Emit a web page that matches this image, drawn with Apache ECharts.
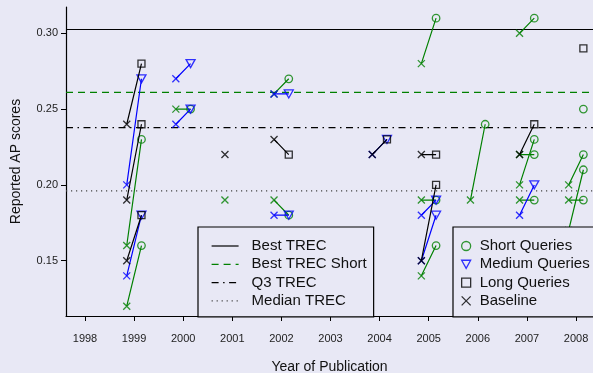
<!DOCTYPE html>
<html><head><meta charset="utf-8">
<script src="https://cdn.jsdelivr.net/npm/echarts@6/dist/echarts.min.js"></script>
<style>html,body{margin:0;padding:0;background:#e8e8f5;}#c{width:593px;height:373px;}</style>
</head><body><div id="c"></div>
<script>
// ---- data ----
const xTickYears = [1998,1999,2000,2001,2002,2003,2004,2005,2006,2007,2008];
const yTickValues = [0.15,0.20,0.25,0.30];

const refNames  = ['Best TREC','Best TREC Short','Q3 TREC','Median TREC'];
const refValues = [0.3025, 0.261, 0.2378, 0.196];

// Short queries: baseline -> improved
const shortYear = [1999,1999,2000,2002,2002,2005,2005,2005,2006,2007,2007,2007,2007,2008,2008,2008];
const shortBase = [0.16,0.12,0.25,0.26,0.19,0.28,0.19,0.14,0.19,0.30,0.22,0.20,0.19,0.20,0.19,0.17];
const shortImp  = [0.23,0.16,0.25,0.27,0.18,0.31,0.19,0.16,0.24,0.31,0.22,0.23,0.19,0.22,0.19,0.21];
// Medium queries
const mediumYear = [1999,1999,2000,2000,2002,2002,2004,2005,2005,2007];
const mediumBase = [0.20,0.14,0.27,0.24,0.26,0.18,0.22,0.18,0.15,0.18];
const mediumImp  = [0.27,0.18,0.28,0.25,0.26,0.18,0.23,0.19,0.18,0.20];
// Long queries
const longYear = [1999,1999,1999,2002,2004,2005,2005,2007];
const longBase = [0.24,0.19,0.15,0.23,0.22,0.22,0.15,0.22];
const longImp  = [0.28,0.24,0.18,0.22,0.23,0.22,0.20,0.24];
// unpaired points
const soloShortBaseYear = [2001]; const soloShortBase = [0.19];
const soloLongBaseYear  = [2001]; const soloLongBase  = [0.22];
const soloShortImpYear  = [2008]; const soloShortImp  = [0.25];
const soloLongImpYear   = [2008]; const soloLongImp   = [0.29];

// ---- layout / style ----
const OFF = 0.15;
const XMIN = 1997.613, XMAX = 2008.346;
const YMIN = 0.11352, YMAX = 0.31735;
const BG = '#e8e8f5';
const G = '#008000', B = '#0000ff', K = '#000000';
const FONT = '"Liberation Sans", Arial, Helvetica, sans-serif';
const XSYM = 'path://M0,0L10,10M0,10L10,0';
const TRI = 'path://M0,0L10,0L5,9Z';

function pairLine(years, base, imp){
  const d = [];
  years.forEach((y,i)=>{ d.push([y-OFF, base[i]]); d.push([y+OFF, imp[i]]); d.push([y+OFF, '-']); });
  return d;
}
function pts(years, vals, off){ return years.map((y,i)=>[y+off, vals[i]]); }

const hollow = c => ({color:'transparent', borderColor:c, borderWidth:1.3});

const refStyles = [
  {color:K, width:1.2, type:'solid'},
  {color:G, width:1.2, type:[7,5]},
  {color:K, width:1.2, type:[7,4.5,1.5,4.5]},
  {color:'#444', width:1.2, type:[1.2,3.8]}
];

const series = [];
refNames.forEach((n,i)=>{
  series.push({type:'line', name:n, data:[[XMIN, refValues[i]],[XMAX, refValues[i]]], symbol:'none',
    lineStyle:refStyles[i], silent:true, z:1});
});
const groups = [
  {key:'short', c:G, years:shortYear, base:shortBase, imp:shortImp, name:'Short Queries', sym:'circle', size:7.5},
  {key:'medium', c:B, years:mediumYear, base:mediumBase, imp:mediumImp, name:'Medium Queries', sym:TRI, size:[9,8]},
  {key:'long', c:K, years:longYear, base:longBase, imp:longImp, name:'Long Queries', sym:'rect', size:7}
];
groups.forEach((g,gi)=>{
  series.push({type:'line', name:g.key+'-link', data:pairLine(g.years,g.base,g.imp), symbol:'none',
    connectNulls:false, lineStyle:{color:g.c, width:1.2}, silent:true, z:2+gi*3});
  let bd = pts(g.years, g.base, -OFF);
  let idt = pts(g.years, g.imp, OFF);
  if (g.key==='short'){ bd = bd.concat(pts(soloShortBaseYear, soloShortBase, -OFF)); idt = idt.concat(pts(soloShortImpYear, soloShortImp, OFF)); }
  if (g.key==='long'){ bd = bd.concat(pts(soloLongBaseYear, soloLongBase, -OFF)); idt = idt.concat(pts(soloLongImpYear, soloLongImp, OFF)); }
  series.push({type:'scatter', name: g.key==='long' ? 'Baseline' : g.key+'-base', data:bd, symbol:XSYM, symbolSize:7,
    itemStyle:hollow(g.c), silent:true, z:3+gi*3});
  series.push({type:'scatter', name:g.name, data:idt, symbol:g.sym, symbolSize:g.size,
    itemStyle:hollow(g.c), silent:true, z:4+gi*3});
});

const chart = echarts.init(document.getElementById('c'), null, {renderer:'canvas'});
chart.setOption({
  backgroundColor: BG,
  animation:false,
  textStyle:{fontFamily:FONT},
  grid:{left:66, top:7, right:0, bottom:57, containLabel:false, outerBoundsMode:'none'},
  xAxis:{type:'value', min:XMIN, max:XMAX,
    name:'Year of Publication', nameLocation:'middle', nameGap:44,
    nameTextStyle:{fontSize:14, color:'#111', fontFamily:FONT},
    axisLine:{show:true, onZero:false, lineStyle:{color:K, width:1.2}},
    axisTick:{show:true, length:5, lineStyle:{color:K, width:1}, customValues:xTickYears},
    axisLabel:{fontSize:11, color:'#222', margin:17, customValues:xTickYears, formatter:v=>String(Math.round(v))},
    splitLine:{show:false}},
  yAxis:{type:'value', min:YMIN, max:YMAX,
    name:'Reported AP scores', nameLocation:'middle', nameGap:43, nameRotate:90,
    nameTextStyle:{fontSize:14, color:'#111', fontFamily:FONT},
    axisLine:{show:true, onZero:false, lineStyle:{color:K, width:1.2}},
    axisTick:{show:true, length:5, lineStyle:{color:K, width:1}, customValues:yTickValues},
    axisLabel:{fontSize:11, color:'#222', margin:8, customValues:yTickValues, formatter:v=>v.toFixed(2)},
    splitLine:{show:false}},
  legend:[
    {orient:'vertical', left:198, top:227, padding:[10,7,7,13], itemWidth:27, itemHeight:14, itemGap:0.3,
     borderColor:K, borderWidth:1.2, backgroundColor:BG, selectedMode:false,
     lineStyle:{width:1.2},
     textStyle:{fontSize:15, color:'#111', fontFamily:FONT, lineHeight:18, padding:[0,0,0,8]},
     data: refNames.map(n=>({name:n, itemStyle:{opacity:0}}))},
    {orient:'vertical', left:453, top:227, padding:[10,30,7,8], itemWidth:9, itemHeight:9, itemGap:0.3,
     borderColor:K, borderWidth:1.2, backgroundColor:BG, selectedMode:false,
     textStyle:{fontSize:15, color:'#111', fontFamily:FONT, lineHeight:18, padding:[0,0,0,4]},
     data:[
       {name:'Short Queries', icon:'circle', itemStyle:hollow(G)},
       {name:'Medium Queries', icon:TRI, itemStyle:hollow(B)},
       {name:'Long Queries', icon:'rect', itemStyle:hollow(K)},
       {name:'Baseline', icon:XSYM, itemStyle:hollow(K)}
     ]}
  ],
  series: series
});
</script></body></html>
